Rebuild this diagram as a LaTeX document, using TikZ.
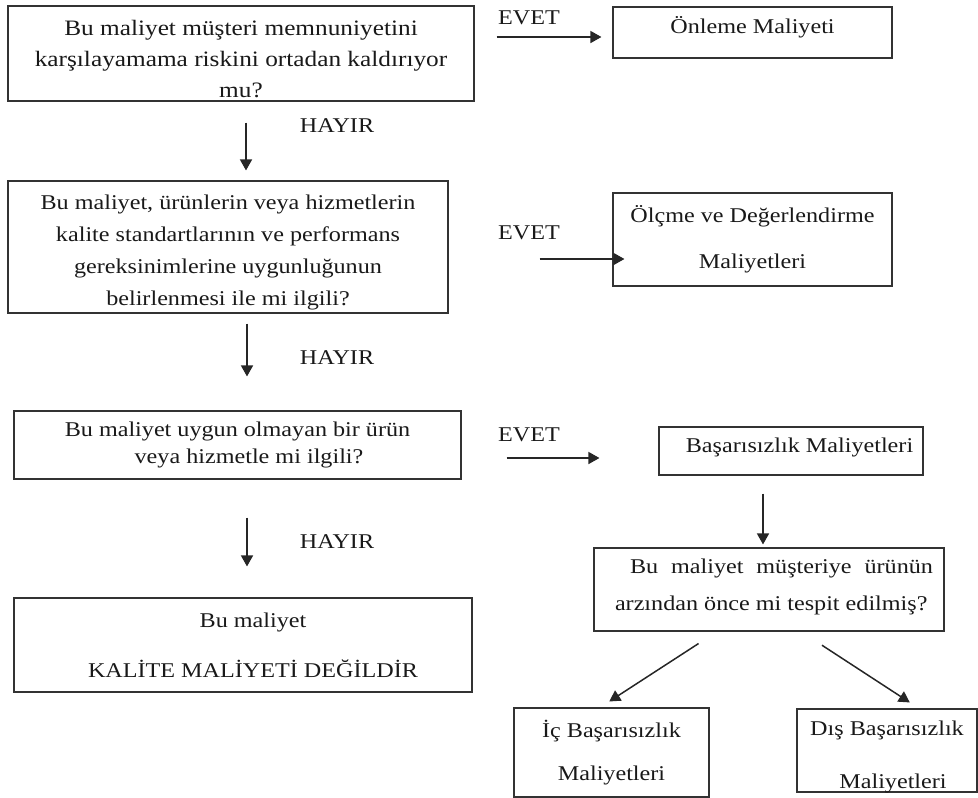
\documentclass[tikz,border=0pt]{standalone}
\usepackage{fontspec}
\setmainfont[FakeStretch=1.15]{Liberation Serif}
\usetikzlibrary{arrows.meta}
\newcommand{\liftup}[2]{\raisebox{0pt}[\height][\dimexpr\depth+#1\relax]{#2}}
\newcommand{\zbox}[2]{\raisebox{#1}[0pt][0pt]{#2}}
\begin{document}
\begin{tikzpicture}[x=1pt,y=-1pt,
  box/.style={draw=black!80, line width=1.1pt, rectangle, inner sep=0pt, align=center, text=black!90, font=\fontsize{21}{31}\selectfont},
  arr/.style={draw=black!85, line width=1.5pt, -{Triangle[length=11pt,width=12pt]}},
  lbl/.style={text=black!90, font=\fontsize{21}{25}\selectfont, inner sep=0pt}]
\useasboundingbox (0,0) rectangle (978,798);

% left column
\node[box, minimum width=466pt, minimum height=95pt, font=\fontsize{22}{31}\selectfont] (b1) at (241,53.5)
  {\zbox{-12pt}{\begin{tabular}{@{}c@{}}Bu maliyet müşteri memnuniyetini\\karşılayamama riskini ortadan kaldırıyor\\mu?\end{tabular}}};
\node[box, minimum width=440pt, minimum height=132pt, font=\fontsize{21}{32}\selectfont] (b2) at (228,247)
  {\zbox{-9.5pt}{\begin{tabular}{@{}c@{}}Bu maliyet, ürünlerin veya hizmetlerin\\kalite standartlarının ve performans\\gereksinimlerine uygunluğunun\\belirlenmesi ile mi ilgili?\end{tabular}}};
\node[box, minimum width=447pt, minimum height=68pt, font=\fontsize{21}{27}\selectfont] (b3) at (237.5,445)
  {Bu maliyet uygun olmayan bir ürün\\\hspace*{23pt}veya hizmetle mi ilgili?};
\node[box, minimum width=458pt, minimum height=94pt] (b4) at (243,645)
  {\hspace*{20pt}Bu maliyet\\[19pt]\hspace*{20pt}KALİTE MALİYETİ DEĞİLDİR};

% right column
\node[box, minimum width=279pt, minimum height=51pt] (r1) at (752.5,32.5)
  {\liftup{11pt}{Önleme Maliyeti}};
\node[box, minimum width=279pt, minimum height=93pt] (r2) at (752.5,239.5)
  {Ölçme ve Değerlendirme\\[15pt]Maliyetleri};
\node[box, minimum width=264pt, minimum height=48pt] (r3) at (791,451)
  {\liftup{8pt}{\hspace*{17pt}Başarısızlık Maliyetleri}};
\node[box, minimum width=350pt, minimum height=83pt, align=left, font=\fontsize{21}{34}\selectfont] (r4) at (769,589.5)
  {\liftup{9pt}{\begin{tabular}{@{}l@{}}\hspace*{25pt}\makebox[303pt][s]{Bu maliyet müşteriye ürünün}\\[3pt]\hspace*{10pt}arzından önce mi tespit edilmiş?\end{tabular}}};
\node[box, minimum width=195pt, minimum height=89pt] (r5) at (611.5,752.5)
  {İç Başarısızlık\\[12pt]Maliyetleri};
\node[box, minimum width=180pt, minimum height=83pt] (r6) at (887,750.5)
  {\zbox{-10pt}{\begin{tabular}{@{}c@{}}Dış Başarısızlık\\[22pt]\hspace*{12pt}Maliyetleri\end{tabular}}};

% labels
\node[lbl] (h1) at (337,126) {HAYIR};
\node[lbl] (h2) at (337,358) {HAYIR};
\node[lbl] (h3) at (337,542) {HAYIR};
\node[lbl] (e1) at (529,18) {EVET};
\node[lbl] (e2) at (529,233) {EVET};
\node[lbl] (e3) at (529,435) {EVET};

% helper coordinates
\coordinate (ax1) at (246,0);
\coordinate (ax2) at (247,0);
\coordinate (ey1) at (0,37);
\coordinate (ey2) at (0,259);
\coordinate (ey3) at (0,458);
\coordinate (vx) at (763,0);
\coordinate (p1) at (717,0);
\coordinate (q1) at (600,0);
\coordinate (p2) at (801,0);
\coordinate (q2) at (919,0);

% HAYIR arrows
\draw[arr, shorten <=21pt, shorten >=10pt] (b1.south -| ax1) -- (b2.north -| ax1);
\draw[arr, shorten <=10pt, shorten >=34pt] (b2.south -| ax2) -- (b3.north -| ax2);
\draw[arr, shorten <=38pt, shorten >=31pt] (b3.south -| ax2) -- (b4.north -| ax2);

% EVET arrows
\draw[arr, shorten <=22pt, shorten >=11pt] (b1.east |- ey1) -- (r1.west |- ey1);
\draw[arr, shorten <=91pt, shorten >=-12pt] (b2.east |- ey2) -- (r2.west |- ey2);
\draw[arr, shorten <=45pt, shorten >=59pt] (b3.east |- ey3) -- (r3.west |- ey3);

% failure branch
\draw[arr, shorten <=18pt, shorten >=3pt] (r3.south -| vx) -- (r4.north -| vx);
\draw[arr, shorten <=22pt, shorten >=11pt] (r4.south -| p1) -- (r5.north -| q1);
\draw[arr, shorten <=25pt, shorten >=11pt] (r4.south -| p2) -- (r6.north -| q2);
\end{tikzpicture}
\end{document}
